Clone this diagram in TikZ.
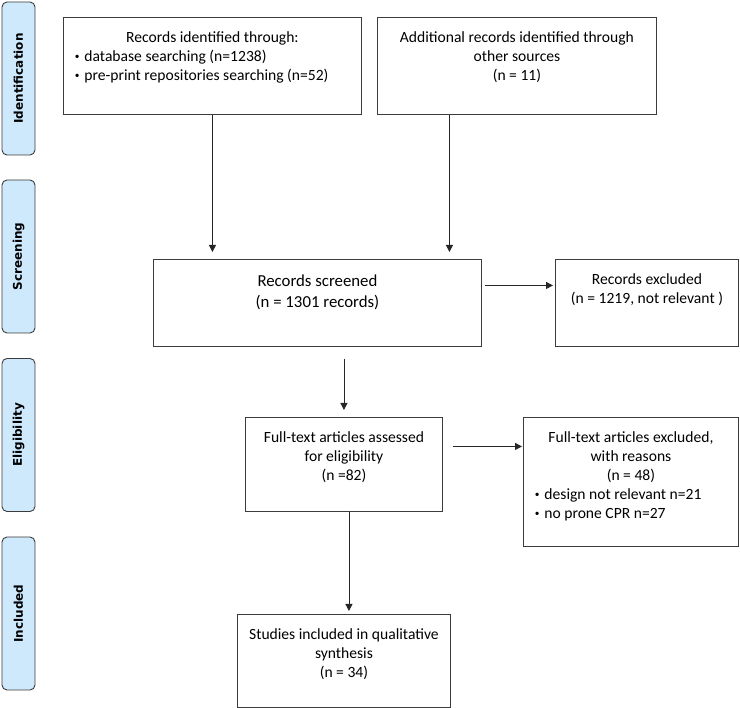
\documentclass[tikz,border=0pt]{standalone}
\usepackage{fontspec}
\setmainfont{Carlito}
\newfontfamily\phasefont{DejaVu Sans}
\usepackage{graphicx}
\usetikzlibrary{arrows.meta}
\definecolor{phaseblue}{RGB}{206,232,252}
\definecolor{boxline}{RGB}{60,60,60}
\def\phasenode{\node[draw=boxline,fill=phaseblue,rounded corners=5pt,line width=0.9pt,minimum width=33pt,minimum height=153pt,inner sep=0pt,font=\phasefont\bfseries\fontsize{12}{14}\selectfont]}
\def\recbox{\node[draw=boxline,line width=0.9pt,anchor=north west,inner sep=0pt]}
\newcommand{\bul}[1]{\makebox[\linewidth][l]{\hspace*{11.5pt}\makebox[9.5pt][l]{\raisebox{2pt}{\scalebox{0.6}{\textbullet}}}#1}}
\newcommand{\boxtext}[3]{\parbox[c][#2pt][t]{#1pt}{\centering\fontsize{15.6}{19}\selectfont\rule{0pt}{25pt}#3}}

\begin{document}
\begin{tikzpicture}[x=1pt,y=-1pt,flow/.style={draw=black!85,line width=0.8pt,-{Triangle[length=7pt,width=7pt]}}]
\useasboundingbox (0,0) rectangle (740,708);
% phases
\phasenode (identphase) at (18.5,78.5) {\rotatebox{90}{Identification}};
\phasenode (screenphase) at (18.5,256.5) {\rotatebox{90}{Screening}};
\phasenode (eligphase) at (18.5,435) {\rotatebox{90}{Eligibility}};
\phasenode (inclphase) at (18.5,613.5) {\rotatebox{90}{Included}};
% boxes
\recbox (ident) at (63,17) {\boxtext{298}{97}{Records identified through:\\
  \bul{database searching (n=1238)}\\
  \bul{pre-print repositories searching (n=52)}}};
\recbox (other) at (377,17) {\boxtext{279}{97}{Additional records identified through\\ other sources\\ (n = 11)}};
\recbox (screen) at (153,259) {\parbox[c][87pt][t]{328pt}{\centering\fontsize{16.8}{21}\selectfont\rule{0pt}{27pt}Records screened\\ (n = 1301 records)}};
\recbox (excl) at (555,259) {\boxtext{183}{87}{Records excluded\\ (n = 1219, not relevant )}};
\recbox (full) at (245,417) {\boxtext{197}{94}{Full-text articles assessed\\ for eligibility\\ (n =82)}};
\recbox (fullexcl) at (523,417) {\boxtext{215}{129}{Full-text articles excluded,\\ with reasons\\ (n = 48)\\
  \bul{design not relevant n=21}\\
  \bul{no prone CPR n=27}}};
\recbox (incl) at (237,614) {\boxtext{213}{93}{Studies included in qualitative\\ synthesis\\ (n = 34)}};
% arrows
\draw[flow,shorten >=7pt] (ident.south) -- (ident.south |- screen.north);
\draw[flow,shorten >=7pt] ([xshift=-67.5pt]other.south) -- ([xshift=-67.5pt]other.south |- screen.north);
\draw[flow,shorten <=3pt,shorten >=2pt] ([yshift=17.5pt]screen.east) -- ([yshift=17.5pt]screen.east -| excl.west);
\draw[flow,shorten <=12pt,shorten >=7pt] (screen.south -| full.north) -- (full.north);
\draw[flow,shorten <=10pt,shorten >=1pt] ([yshift=18pt]full.east) -- ([yshift=18pt]full.east -| fullexcl.west);
\draw[flow,shorten >=3pt] ([xshift=5pt]full.south) -- ([xshift=5pt]full.south |- incl.north);
\end{tikzpicture}
\end{document}
